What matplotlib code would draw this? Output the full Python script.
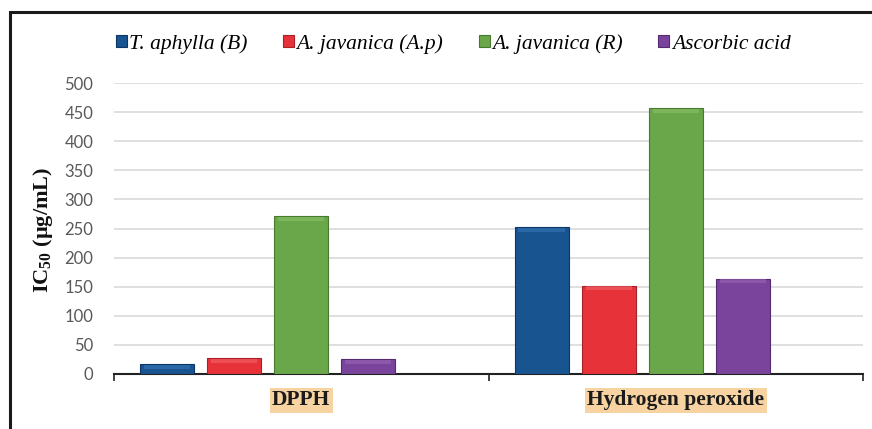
import numpy as np
import matplotlib
matplotlib.use('Agg')
import matplotlib.pyplot as plt
from matplotlib.patches import Rectangle

plt.rcParams['mathtext.fontset'] = 'custom'
plt.rcParams['mathtext.rm'] = 'Liberation Serif:bold'
plt.rcParams['mathtext.bf'] = 'Liberation Serif:bold'

categories = ['DPPH', 'Hydrogen peroxide']
series = ['T. aphylla (B)', 'A. javanica (A.p)', 'A. javanica (R)', 'Ascorbic acid']
values = {
    'T. aphylla (B)': [17, 252],
    'A. javanica (A.p)': [27, 152],
    'A. javanica (R)': [271, 457],
    'Ascorbic acid': [26, 164],
}
colors = ['#175490', '#E8323A', '#6AA64A', '#7A449C']
tops = ['#3a78b8', '#f0676c', '#8cc26c', '#9a6ab8']
edges = ['#0d3565', '#a82027', '#477a2e', '#532b6e']
yticks = [0, 50, 100, 150, 200, 250, 300, 350, 400, 450, 500]

fig = plt.figure(figsize=(8.72, 4.29), dpi=100)
# outer frame (only left/top visible in the original crop)
fig.patches.append(Rectangle((10 / 872, -0.1), 1.2, 1 - 12 / 429 + 0.1,
                             transform=fig.transFigure, fill=False,
                             edgecolor='#1a1a1a', linewidth=2.2))

ax = fig.add_axes([114 / 872, 1 - 374 / 429, 749 / 872, 291 / 429])

x = np.arange(len(categories))
step = 0.179
width = 0.144
bevel = 7
for i, name in enumerate(series):
    pos = x + (i - 2) * step
    vals = np.array(values[name])
    ax.bar(pos, vals, width, color=colors[i], edgecolor=edges[i],
           linewidth=0.8, label=name, zorder=3)
    # lighter bevel strip at the top of each bar
    ax.bar(pos, bevel, width * 0.86, bottom=vals - bevel - 1.5, color=tops[i],
           linewidth=0, alpha=0.55, zorder=4)

ax.set_xlim(-0.5, 1.5)
ax.set_ylim(0, 500)
ax.set_yticks(yticks)
ax.set_yticklabels([str(v) for v in yticks], family='Lato', fontsize=12, color='#595959')
ax.tick_params(axis='y', length=0, pad=15)
ax.yaxis.grid(True, color='#d9d9d9', linewidth=1.2, zorder=0)
ax.set_axisbelow(True)

ax.set_xticks([-0.5, 0.5, 1.5])
ax.set_xticklabels([])
ax.tick_params(axis='x', length=5, width=1.2, color='#222222', direction='out')
for s in ['top', 'right', 'left']:
    ax.spines[s].set_visible(False)
ax.spines['bottom'].set_color('#222222')
ax.spines['bottom'].set_linewidth(1.5)

for xi, cat in zip(x, categories):
    ax.text(xi, -45, cat, ha='center', va='center', family='Liberation Serif',
            fontweight='bold', fontsize=15.5, color='#1a1a1a',
            bbox=dict(boxstyle='square,pad=0.12', facecolor='#F7D3A1', edgecolor='none'))

fig.text(43 / 872, 1 - 230 / 429, r'IC$_{\mathbf{50}}$ (µg/mL)', rotation=90,
         ha='center', va='center', family='Liberation Serif', fontweight='bold',
         fontsize=16, color='#111111')

leg = fig.legend(loc='center left', bbox_to_anchor=(116 / 872, 1 - 44 / 429), ncol=4,
                 frameon=False, prop=dict(family='Liberation Serif', style='italic', size=15.5),
                 handlelength=0.5, handleheight=0.5, handletextpad=0.12, columnspacing=1.65,
                 borderaxespad=0, borderpad=0)

fig.savefig('out.png', dpi=100)
